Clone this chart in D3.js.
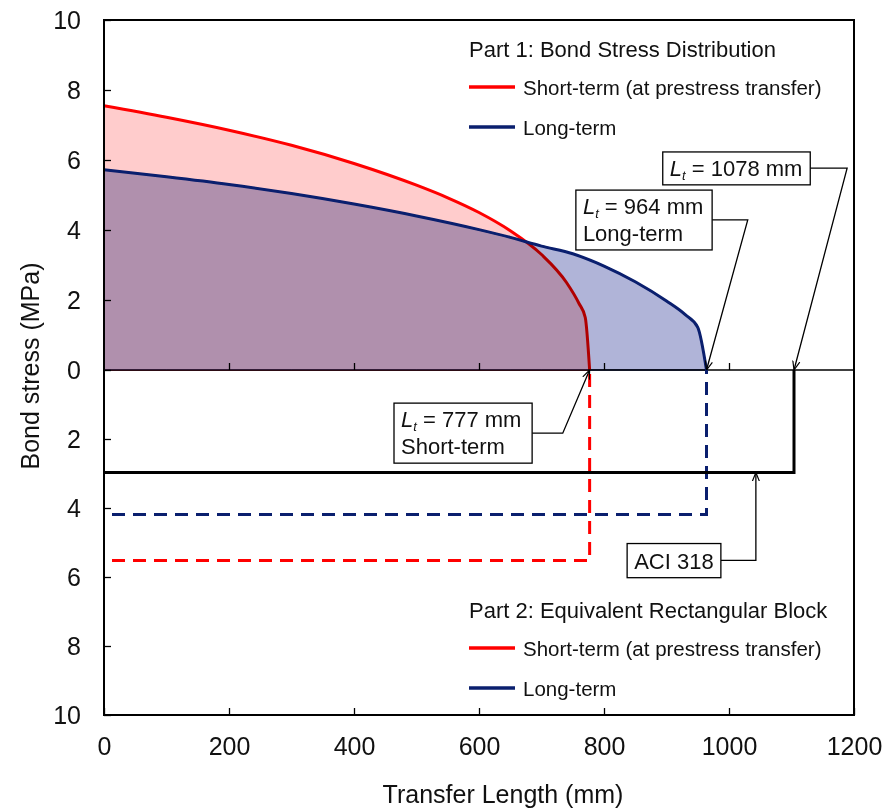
<!DOCTYPE html>
<html>
<head>
<meta charset="utf-8">
<script src="https://cdn.jsdelivr.net/npm/d3@7"></script>
<style>
  body { margin: 0; background: #fff; }
  svg text { font-family: "Liberation Sans", Arial, sans-serif; fill: #111; }
</style>
</head>
<body>
<div id="chart"></div>
<script>
// bond stress distribution (part 1)
var shortX = [0, 100, 200, 300, 400, 500, 550, 600, 650, 700, 740, 760, 770, 777];
var shortY = [7.55, 7.22, 6.85, 6.42, 5.9, 5.28, 4.92, 4.5, 3.98, 3.3, 2.5, 1.9, 1.5, 0];
var longX = [0, 100, 200, 300, 400, 500, 600, 650, 700, 750, 800, 850, 900, 930, 950, 964];
var longY = [5.72, 5.52, 5.3, 5.04, 4.74, 4.4, 4.01, 3.79, 3.54, 3.32, 2.97, 2.52, 1.97, 1.58, 1.22, 0];

// equivalent rectangular blocks (part 2), drawn downward
var blockNames = ["Short-term", "Long-term", "ACI 318"];
var blockLength = [777, 964, 1104];
var blockStress = [5.52, 4.19, 2.97];

var xTicks = [0, 200, 400, 600, 800, 1000, 1200];
var yTicks = [-10, -8, -6, -4, -2, 0, 2, 4, 6, 8, 10];

var RED = "#ff0000", NAVY = "#0a1f6e";

var W = 885, H = 809;
var x = d3.scaleLinear().domain([0, 1200]).range([104, 854]);
var y = d3.scaleLinear().domain([-10, 0, 10]).range([715, 370, 20]);

var svg = d3.select("#chart").append("svg")
  .attr("width", W).attr("height", H);

var defs = svg.append("defs");
defs.append("marker")
  .attr("id", "arrow")
  .attr("viewBox", "0 0 10 10")
  .attr("refX", 10).attr("refY", 5)
  .attr("markerWidth", 9).attr("markerHeight", 9)
  .attr("markerUnits", "userSpaceOnUse")
  .attr("orient", "auto")
  .append("path")
  .attr("d", "M0,1 L10,5 L0,9")
  .attr("fill", "none").attr("stroke", "#000").attr("stroke-width", 1.3);

// zero line
svg.append("line")
  .attr("x1", x(0)).attr("x2", x(1200))
  .attr("y1", y(0)).attr("y2", y(0))
  .attr("stroke", "#000").attr("stroke-width", 1.3);

var shortData = shortX.map(function(d, i) { return [d, shortY[i]]; });
var longData = longX.map(function(d, i) { return [d, longY[i]]; });

var area = d3.area()
  .x(function(d) { return x(d[0]); })
  .y0(y(0))
  .y1(function(d) { return y(d[1]); })
  .curve(d3.curveMonotoneX);

var line = d3.line()
  .x(function(d) { return x(d[0]); })
  .y(function(d) { return y(d[1]); })
  .curve(d3.curveMonotoneX);

svg.append("path")
  .attr("d", area(shortData))
  .attr("fill", "#ffcccc")
  .attr("stroke", RED).attr("stroke-width", 1);

svg.append("path")
  .attr("d", line(shortData))
  .attr("fill", "none")
  .attr("stroke", RED).attr("stroke-width", 3);

svg.append("path")
  .attr("d", area(longData))
  .attr("fill", "#b0b4d8")
  .style("mix-blend-mode", "multiply")
  .attr("stroke", NAVY).attr("stroke-width", 1.5);

svg.append("path")
  .attr("d", line(longData))
  .attr("fill", "none")
  .attr("stroke", NAVY).attr("stroke-width", 3);

// rectangular blocks
var blockStyle = [
  { color: RED, dash: "13,8" },
  { color: NAVY, dash: "13,8" },
  { color: "#000", dash: null }
];
blockLength.forEach(function(len, i) {
  var pts = [[0, -blockStress[i]], [len, -blockStress[i]], [len, 0]];
  svg.append("path")
    .attr("d", d3.line().x(function(d) { return x(d[0]); }).y(function(d) { return y(d[1]); })(pts))
    .attr("fill", "none")
    .attr("stroke", blockStyle[i].color)
    .attr("stroke-width", 3)
    .attr("stroke-dasharray", blockStyle[i].dash)
    .attr("stroke-dashoffset", blockStyle[i].dash ? 13 : null);
});

// axes
var yAxis = d3.axisLeft(y)
  .tickValues(yTicks)
  .tickSize(-7)
  .tickPadding(23)
  .tickFormat(function(d) { return Math.abs(d); });
var gy = svg.append("g")
  .attr("transform", "translate(" + x(0) + ",0)")
  .call(yAxis);

var xAxis = d3.axisBottom(x)
  .tickValues(xTicks)
  .tickSize(-7)
  .tickPadding(22)
  .tickFormat(d3.format("d"));
var gx = svg.append("g")
  .attr("transform", "translate(0," + y(-10) + ")")
  .call(xAxis);

// ticks on the zero line
var gz = svg.append("g")
  .attr("transform", "translate(0," + y(0) + ")")
  .call(d3.axisBottom(x).tickValues(xTicks.slice(1, -1)).tickSize(-7).tickFormat(""));
gz.select(".domain").remove();

[gx, gy, gz].forEach(function(g) {
  g.selectAll("text").style("font-size", "25px").attr("fill", "#111");
  g.selectAll("line").attr("stroke", "#000").attr("stroke-width", 1.3);
  g.select(".domain").attr("stroke", "none");
});

// frame
svg.append("rect")
  .attr("x", x(0)).attr("y", y(10))
  .attr("width", x(1200) - x(0)).attr("height", y(-10) - y(10))
  .attr("fill", "none").attr("stroke", "#000").attr("stroke-width", 2);

// axis titles
svg.append("text")
  .attr("x", (x(0) + x(1200)) / 2 + 24).attr("y", 803)
  .attr("text-anchor", "middle")
  .style("font-size", "25px")
  .text("Transfer Length (mm)");

svg.append("text")
  .attr("transform", "translate(39," + 366 + ") rotate(-90)")
  .attr("text-anchor", "middle")
  .style("font-size", "25px")
  .text("Bond stress (MPa)");

// annotations: box corners and leader elbows in data units
var notes = [
  { lt: "1078", sub: null, box: [894, 1130, 6.23, 5.29], elbow: [1189, 5.77], tip: [1104, 0], from: [1130, 5.77] },
  { lt: "964", sub: "Long-term", box: [755, 973, 5.14, 3.43], elbow: [1030, 4.29], tip: [964, 0], from: [973, 4.29] },
  { lt: "777", sub: "Short-term", box: [464, 685, -0.96, -2.7], elbow: [734, -1.83], tip: [777, 0], from: [685, -1.83] },
  { lt: null, sub: "ACI 318", box: [837, 987, -5.03, -6.02], elbow: [1043, -5.52], tip: [1043, -2.97], from: [987, -5.52] }
];

notes.forEach(function(n) {
  var bx = x(n.box[0]), bw = x(n.box[1]) - x(n.box[0]);
  var by = y(n.box[2]), bh = y(n.box[3]) - y(n.box[2]);
  svg.append("polyline")
    .attr("points", [n.from, n.elbow, n.tip].map(function(p) { return x(p[0]) + "," + y(p[1]); }).join(" "))
    .attr("fill", "none").attr("stroke", "#000").attr("stroke-width", 1.3)
    .attr("marker-end", "url(#arrow)");
  svg.append("rect")
    .attr("x", bx).attr("y", by).attr("width", bw).attr("height", bh)
    .attr("fill", "#fff").attr("stroke", "#000").attr("stroke-width", 1.3);
  var line1 = by + 24;
  if (n.lt) {
    var t = svg.append("text").attr("x", bx + 7).attr("y", line1).style("font-size", "22px");
    t.append("tspan").style("font-style", "italic").text("L");
    t.append("tspan").style("font-style", "italic").style("font-size", "13px").attr("dy", 4).text("t");
    t.append("tspan").attr("dy", -4).text(" = " + n.lt + " mm");
    if (n.sub) {
      svg.append("text").attr("x", bx + 7).attr("y", line1 + 27).style("font-size", "22px").text(n.sub);
    }
  } else {
    svg.append("text").attr("x", bx + 7).attr("y", by + 25).style("font-size", "22px").text(n.sub);
  }
});

// legends
function legend(top, title) {
  var g = svg.append("g").attr("transform", "translate(469," + top + ")");
  g.append("text").attr("x", 0).attr("y", 0).style("font-size", "22px").text(title);
  var items = [["Short-term (at prestress transfer)", RED], ["Long-term", NAVY]];
  items.forEach(function(it, i) {
    var ly = 30 + i * 40;
    g.append("line").attr("x1", 0).attr("x2", 46).attr("y1", ly).attr("y2", ly)
      .attr("stroke", it[1]).attr("stroke-width", 3.5);
    g.append("text").attr("x", 54).attr("y", ly + 8).style("font-size", "20.5px").text(it[0]);
  });
}
legend(57, "Part 1: Bond Stress Distribution");
legend(618, "Part 2: Equivalent Rectangular Block");
</script>
</body>
</html>
